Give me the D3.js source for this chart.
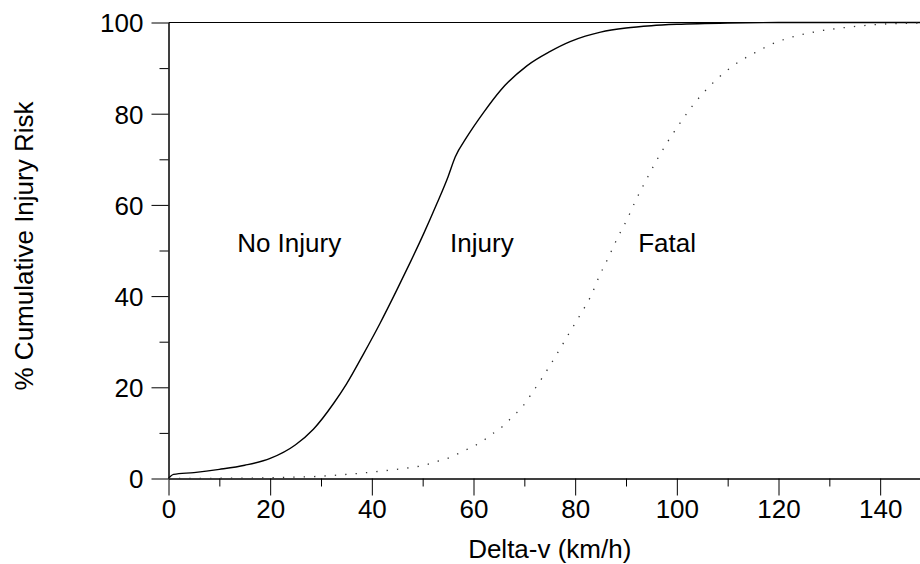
<!DOCTYPE html>
<html>
<head>
<meta charset="utf-8">
<script src="https://cdn.jsdelivr.net/npm/d3@7/dist/d3.min.js"></script>
<style>
  html, body { margin: 0; padding: 0; background: #fff; }
  svg { display: block; }
  text { font-family: Arial, "Liberation Sans", sans-serif; fill: #000; }
</style>
</head>
<body>
<svg id="chart" width="920" height="564"></svg>
<script>
// Delta-v (km/h) and cumulative risk (%) for the injury threshold curve
const injuryDv   = [0, 1, 5, 10, 15, 20, 25, 28.5, 32.5, 35, 38.4, 41.6, 44.9, 47.6, 50.2, 52.8, 55, 56.4, 58.7, 62, 65.3, 70.5, 75, 79, 82, 85, 90, 95, 100, 110, 120, 150];
const injuryRisk = [0, 0.9, 1.3, 2.0, 2.9, 4.4, 7.4, 10.8, 16.5, 20.7, 27.4, 34, 41.3, 47.5, 53.7, 60.3, 66.2, 70.5, 74.9, 80.3, 85.1, 90.5, 93.6, 95.8, 97.0, 97.9, 98.8, 99.3, 99.6, 99.9, 100, 100];

// Delta-v (km/h) and cumulative risk (%) for the fatal threshold curve
const fatalDv   = [0, 10, 20, 25, 30, 35, 40, 44, 48.2, 50.3, 52.3, 54.4, 56.3, 58.2, 60.1, 61.9, 63.6, 65.3, 66.8, 68.3, 69.8, 71, 73, 75, 77, 79, 81, 82, 83, 84.8, 86.6, 88.3, 90.2, 92, 93.9, 95.9, 98, 100.3, 102.7, 105.4, 108.5, 111.7, 115.4, 119.2, 123.3, 127.4, 131.6, 135.7, 139.8, 144, 150];
const fatalRisk = [0, 0.05, 0.15, 0.3, 0.5, 0.9, 1.4, 1.9, 2.5, 2.9, 3.6, 4.2, 5.1, 6.1, 7.1, 8.3, 9.7, 11, 12.6, 14.2, 16, 17.9, 21.2, 24.7, 28.4, 32.2, 35.9, 37.8, 39.8, 44.5, 48.6, 52.7, 56.8, 61.2, 65.3, 69.5, 73.5, 77.4, 81.2, 84.8, 88.2, 91, 93.4, 95.5, 97, 98, 98.7, 99.2, 99.6, 99.8, 99.9];

// Axis ticks
const xMajorTicks = [0, 20, 40, 60, 80, 100, 120, 140];
const xMinorTicks = [10, 30, 50, 70, 90, 110, 130, 150];
const yMajorTicks = [0, 20, 40, 60, 80, 100];
const yMinorTicks = [10, 30, 50, 70, 90];

// Zone labels placed between the curves
const zoneNames = ["No Injury", "Injury", "Fatal"];
const zoneDv    = [13.5, 55.4, 92.4];
const zoneRisk  = 49.6;

const svg = d3.select("#chart");
const fontSize = 26;

const x = d3.scaleLinear().domain([0, 150]).range([168.5, 931]);
const y = d3.scaleLinear().domain([0, 100]).range([478.5, 22.5]);

// Top frame line
svg.append("line")
  .attr("x1", x(0)).attr("x2", x(150))
  .attr("y1", y(100)).attr("y2", y(100))
  .attr("stroke", "#000").attr("stroke-width", 1);

// X axis: minor then major ticks
svg.append("g").attr("transform", `translate(0,${y(0)})`)
  .call(d3.axisBottom(x).tickValues(xMinorTicks).tickSize(8).tickSizeOuter(0).tickFormat(""));
svg.append("g").attr("transform", `translate(0,${y(0)})`)
  .call(d3.axisBottom(x).tickValues(xMajorTicks).tickSize(17).tickSizeOuter(0).tickPadding(4).tickFormat(d3.format("d")));

// Y axis: minor then major ticks
svg.append("g").attr("transform", `translate(${x(0)},0)`)
  .call(d3.axisLeft(y).tickValues(yMinorTicks).tickSize(9).tickSizeOuter(0).tickFormat(""));
const gy = svg.append("g").attr("transform", `translate(${x(0)},0)`)
  .call(d3.axisLeft(y).tickValues(yMajorTicks).tickSize(17).tickSizeOuter(0).tickPadding(8).tickFormat(d3.format("d")));

svg.selectAll(".domain, .tick line").attr("stroke", "#000").attr("stroke-width", 1);
svg.selectAll(".tick text")
  .attr("font-size", fontSize)
  .attr("font-family", "Arial, 'Liberation Sans', sans-serif")
  .attr("fill", "#000");
gy.selectAll(".tick text").attr("dy", "0.36em");

// Axis titles
svg.append("text")
  .attr("x", (x(0) + x(150)) / 2).attr("y", 558)
  .attr("text-anchor", "middle")
  .attr("font-size", fontSize)
  .text("Delta-v (km/h)");

svg.append("text")
  .attr("transform", "translate(33,246) rotate(-90)")
  .attr("text-anchor", "middle")
  .attr("font-size", fontSize)
  .text("% Cumulative Injury Risk");

// Curves
const line = d3.line()
  .x(d => x(d[0]))
  .y(d => y(d[1]))
  .curve(d3.curveMonotoneX);

const injury = injuryDv.map((v, i) => [v, injuryRisk[i]]);
const fatal  = fatalDv.map((v, i) => [v, fatalRisk[i]]);

svg.append("path")
  .datum(injury)
  .attr("fill", "none")
  .attr("stroke", "#000")
  .attr("stroke-width", 1.4)
  .attr("d", line);

svg.append("path")
  .datum(fatal)
  .attr("fill", "none")
  .attr("stroke", "#333")
  .attr("stroke-width", 1.3)
  .attr("stroke-dasharray", "1.3 9.1")
  .attr("d", line);

// Zone labels
svg.selectAll(".zone")
  .data(zoneNames)
  .join("text")
  .attr("class", "zone")
  .attr("x", (d, i) => x(zoneDv[i]))
  .attr("y", y(zoneRisk))
  .attr("font-size", fontSize)
  .text(d => d);
</script>
</body>
</html>
